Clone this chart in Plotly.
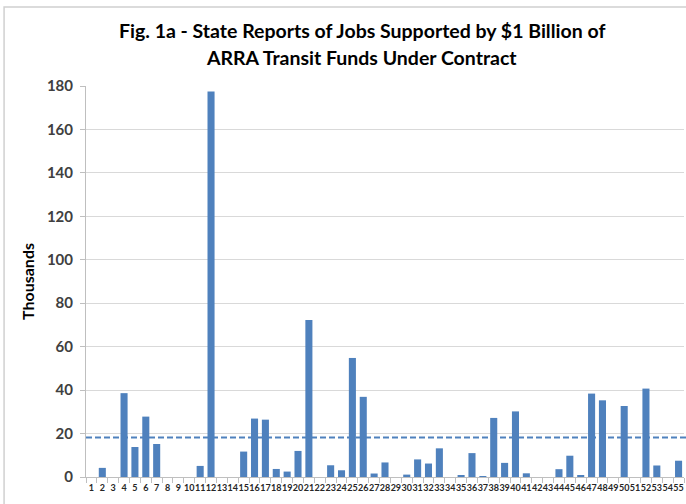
import plotly.graph_objects as go

categories = [str(i) for i in range(1, 56)]
jobs_thousands = [
    0, 4.2, 0, 38.6, 13.8, 27.8, 15.2, 0, 0, 0,
    5.1, 177.5, 0, 0, 11.7, 26.9, 26.4, 3.7, 2.5, 12.0,
    72.3, 0, 5.4, 3.1, 54.8, 36.9, 1.6, 6.7, 0, 1.1,
    8.1, 6.2, 13.2, 0, 0.6, 11.0, 0.3, 27.2, 6.5, 30.2,
    1.7, 0, 0, 3.6, 9.8, 0.5, 38.4, 35.3, 0, 32.7,
    0, 40.7, 5.3, 0, 7.5,
]
average_line = 18.2
y_ticks = [0, 20, 40, 60, 80, 100, 120, 140, 160, 180]

title_lines = ["Fig. 1a - State Reports of Jobs Supported by $1 Billion of",
               "ARRA Transit Funds Under Contract"]

BLUE = "#4F81BD"
FONT = "Lato"

fig = go.Figure()
fig.add_trace(go.Bar(
    x=categories, y=jobs_thousands,
    marker=dict(color=BLUE, line=dict(width=0)),
    width=0.65,
    showlegend=False,
))

fig.add_shape(type="line", xref="paper", yref="y",
              x0=0, x1=1.01, y0=average_line, y1=average_line,
              line=dict(color=BLUE, width=2, dash="6px,3px"))

# outer chart border (light gray)
fig.add_shape(type="rect", xref="paper", yref="paper",
              x0=-0.137, x1=1.02, y0=-0.2, y1=1.202,
              line=dict(color="#D0D0D0", width=1.5), fillcolor="rgba(0,0,0,0)")

for line_text, ypos in zip(title_lines, [1.143, 1.072]):
    fig.add_annotation(text=line_text, xref="paper", yref="paper",
                       x=0.4615, y=ypos, xanchor="center", yanchor="middle",
                       showarrow=False,
                       font=dict(family=FONT, size=19.5, color="#000000", weight="bold"))

fig.update_layout(
    width=686, height=504,
    margin=dict(l=86, r=2, t=86, b=27),
    paper_bgcolor="white", plot_bgcolor="white",
    bargap=0.35,
    font=dict(family=FONT),
)

fig.update_xaxes(
    type="category", range=[-0.5, 54.5],
    tickmode="array", tickvals=categories, ticktext=categories,
    showline=True, linecolor="#BFBFBF", linewidth=1,
    ticks="outside", tickson="boundaries", ticklen=5, tickcolor="#BFBFBF",
    ticklabelstandoff=2,
    tickfont=dict(family=FONT, size=9, color="#262626", weight="bold"),
    tickangle=0, showgrid=False,
)
fig.update_yaxes(
    range=[0, 180], tickvals=y_ticks,
    showline=True, linecolor="#BFBFBF", linewidth=1,
    ticks="outside", ticklen=5, tickcolor="#BFBFBF",
    ticklabelstandoff=4,
    showgrid=True, gridcolor="#D9D9D9", gridwidth=1,
    zeroline=False,
    tickfont=dict(family=FONT, size=15, color="#404040", weight="bold"),
    title=dict(text="Thousands", standoff=8,
               font=dict(family=FONT, size=16, color="#000000", weight="bold")),
)

fig.write_html("out.html")
